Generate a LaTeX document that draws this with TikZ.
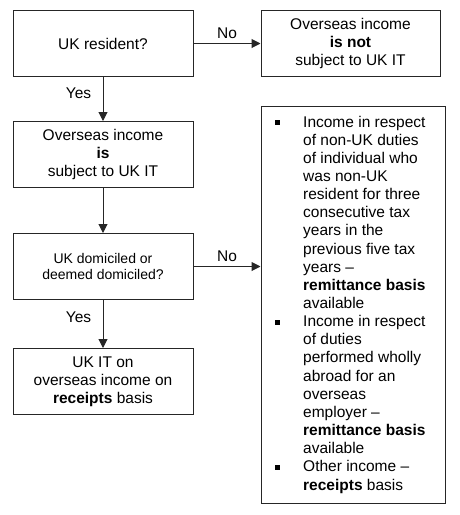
\documentclass[tikz,border=0pt]{standalone}
\usepackage{fontspec}
\setmainfont{Liberation Sans}
\usetikzlibrary{arrows.meta}
\begin{document}
\begin{tikzpicture}[x=1pt,y=-1pt,
  box/.style={draw=black!85, line width=1pt, inner sep=0pt, align=center, minimum width=180pt, minimum height=66pt},
  arr/.style={draw=black!85, line width=1pt, -{Triangle[length=9pt,width=9pt]}},
  big/.style={font=\fontsize{15.5}{17.8}\selectfont},
  lbl/.style={font=\fontsize{15.5}{18}\selectfont},
  bul/.style={fill=black, minimum size=5pt, inner sep=0pt}]
\useasboundingbox (0,0) rectangle (460,515);
\node[box, big] (res) at (103,43.5) {UK resident?};
\node[box, big, minimum width=179pt] (notsub) at (350.5,43.5) {Overseas income\\\bfseries is not\\subject to UK IT};
\node[box, big] (sub) at (103,154.5) {Overseas income\\\bfseries is\\subject to UK IT};
\node[box, font=\fontsize{14}{16}\selectfont] (dom) at (103,266.5) {UK domiciled or\\deemed domiciled?};
\node[box, big] (rec) at (103,381.5) {UK IT on\\overseas income on\\\textbf{receipts} basis};
\node[box, minimum width=184pt, minimum height=397pt] (rb) at (353,304.5) {};
\node[anchor=base west, inner sep=0pt, font=\fontsize{15.5}{18.15}\selectfont] (rbtext) at (303,127) {\parbox[t]{142pt}{\raggedright
Income in respect\\of non-UK duties\\of individual who\\was non-UK\\resident for three\\consecutive tax\\years in the\\previous five tax\\years –\\\textbf{remittance basis}\\available\\
Income in respect\\of duties\\performed wholly\\abroad for an\\overseas\\employer –\\\textbf{remittance basis}\\available\\
Other income –\\\textbf{receipts} basis}};
\node[bul] (b1) at (277,122) {};
\node[bul] (b2) at (277,322) {};
\node[bul] (b3) at (277,467) {};
\draw[arr] (res) -- node[lbl, above=1pt]{No} (notsub);
\draw[arr] (res.south) -- node[lbl, left=8pt, pos=0.38]{Yes} (sub.north);
\draw[arr] (sub) -- (dom);
\draw[arr] (dom.east) -- node[lbl, above=1pt]{No} (dom.east -| rb.west);
\draw[arr] (dom) -- node[lbl, left=8pt, pos=0.36]{Yes} (rec);
\end{tikzpicture}
\end{document}
